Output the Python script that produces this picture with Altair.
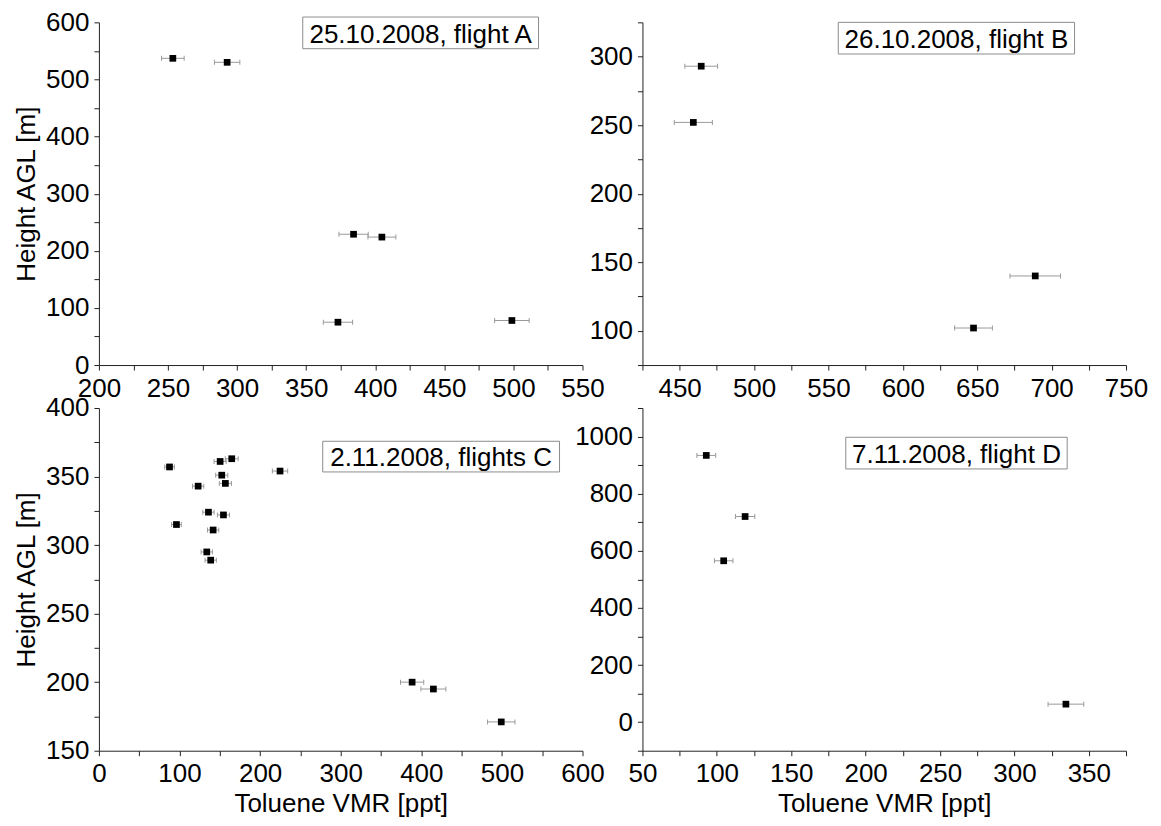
import altair as alt
import pandas as pd

FONT = "Liberation Sans, Arial, Helvetica, sans-serif"

# ---- data ----
# Panel A: 25.10.2008, flight A
a_vmr = [253.5, 292.8, 384.3, 404.8, 373.0, 498.9]
a_hgt = [537, 530, 229, 224, 75, 78]
a_err = [8.2, 9.2, 10.6, 10.1, 10.6, 12.5]

# Panel B: 26.10.2008, flight B
b_vmr = [464.5, 459.2, 689.0, 647.5]
b_hgt = [293, 252, 140, 102]
b_err = [11.0, 12.8, 17.0, 12.7]

# Panel C: 2.11.2008, flights C
c_vmr = [87.6, 150.4, 164.8, 224.7, 152.4, 156.9, 123.1, 135.9,
         154.5, 96.2, 141.7, 133.8, 138.7, 388.6, 415.0, 499.2]
c_hgt = [357, 361, 363, 354, 351, 345, 343, 324,
         322, 315, 311, 295, 289, 200, 195, 171]
c_err = [6.0, 7.5, 8.0, 9.5, 7.5, 7.5, 7.0, 7.0,
         7.5, 6.0, 7.0, 7.0, 7.0, 14.4, 15.5, 17.0]

# Panel D: 7.11.2008, flight D
d_vmr = [92.9, 119.0, 104.6, 334.6]
d_hgt = [934, 720, 565, 63]
d_err = [6.3, 6.5, 6.2, 12.0]

labels = ["25.10.2008, flight A", "26.10.2008, flight B",
          "2.11.2008, flights C", "7.11.2008, flight D"]

x_domains = [[200, 550], [425, 750], [0, 600], [50, 375]]
y_domains = [[0, 600], [75, 325], [150, 400], [-100, 1100]]
x_tick_steps = [25, 25, 50, 25]
x_label_steps = [50, 50, 100, 50]
y_tick_steps = [50, 25, 25, 100]
y_label_steps = [100, 50, 50, 200]

X_TITLE = "Toluene VMR [ppt]"
Y_TITLE = "Height AGL [m]"

W, H = 484, 343
ERR_COLOR = "#9a9a9a"

# annotation boxes in pixels relative to the panel's plot area: x1, x2, y1, y2, text baseline
boxes = [
    (204, 440, -5.3, 26.4, 20.8),
    (196, 432.5, 0, 31.7, 26.0),
    (224, 461, 33.3, 64.0, 58.5),
    (203.5, 425.1, 29.3, 61.0, 55.5),
]


def panel(vmr, hgt, err, i, xtitle, ytitle):
    df = pd.DataFrame({
        "x": vmr,
        "y": hgt,
        "lo": [v - e for v, e in zip(vmr, err)],
        "hi": [v + e for v, e in zip(vmr, err)],
    })
    xd, yd = x_domains[i], y_domains[i]
    xscale = alt.Scale(domain=xd, nice=False, zero=False)
    yscale = alt.Scale(domain=yd, nice=False, zero=False)
    xaxis = alt.Axis(
        values=list(range(xd[0], xd[1] + 1, x_tick_steps[i])),
        labelExpr=f"datum.value % {x_label_steps[i]} === 0 ? datum.label : ''",
        format="d", title=xtitle,
    )
    yaxis = alt.Axis(
        values=list(range(yd[0], yd[1] + 1, y_tick_steps[i])),
        labelExpr=f"datum.value % {y_label_steps[i]} === 0 ? datum.label : ''",
        format="d", title=ytitle,
    )

    def X(f):
        return alt.X(f, type="quantitative", scale=xscale, axis=xaxis)

    def Y(f):
        return alt.Y(f, type="quantitative", scale=yscale, axis=yaxis)

    base = alt.Chart(df)
    bars = base.mark_rule(color=ERR_COLOR, strokeWidth=1).encode(
        x=X("lo"), x2="hi", y=Y("y"))
    cap_lo = base.mark_tick(orient="vertical", size=5, thickness=1,
                            color=ERR_COLOR, opacity=1).encode(x=X("lo"), y=Y("y"))
    cap_hi = base.mark_tick(orient="vertical", size=5, thickness=1,
                            color=ERR_COLOR, opacity=1).encode(x=X("hi"), y=Y("y"))
    pts = base.mark_point(shape="square", filled=True, size=45, color="black",
                          opacity=1).encode(x=X("x"), y=Y("y"))

    bx1, bx2, by1, by2, tb = boxes[i]
    lab = pd.DataFrame({"t": [labels[i]]})
    rect = alt.Chart(lab).mark_rect(fill="white", stroke="#8c8c8c",
                                    strokeWidth=1).encode(
        x=alt.value(bx1), x2=alt.value(bx2), y=alt.value(by1), y2=alt.value(by2))
    txt = alt.Chart(lab).mark_text(font=FONT, fontSize=26, baseline="alphabetic",
                                   align="center", color="black").encode(
        x=alt.value((bx1 + bx2) / 2), y=alt.value(tb), text="t:N")

    return alt.layer(bars, cap_lo, cap_hi, pts, rect, txt).properties(width=W, height=H)


pa = panel(a_vmr, a_hgt, a_err, 0, None, Y_TITLE)
pb = panel(b_vmr, b_hgt, b_err, 1, None, None)
pc = panel(c_vmr, c_hgt, c_err, 2, X_TITLE, Y_TITLE)
pd_ = panel(d_vmr, d_hgt, d_err, 3, X_TITLE, None)

chart = alt.concat(pa, pb, pc, pd_, columns=2,
                   spacing={"row": 43, "column": 60}).properties(
    align="each", bounds="flush",
    padding={"left": 5, "top": 1, "right": 5, "bottom": 0},
    background="white",
).configure_view(stroke=None).configure_axis(
    grid=False,
    domainColor="#222222", tickColor="#222222",
    labelColor="black", titleColor="black",
    labelFont=FONT, titleFont=FONT,
    labelFontSize=26, titleFontSize=26, titleFontWeight="normal",
    tickSize=5, labelPadding=5,
    labelFlush=False, labelOverlap=False,
).configure_axisY(titlePadding=6).configure_axisX(titlePadding=4)

chart.save("out.html", embed_options={"renderer": "svg", "actions": False})
